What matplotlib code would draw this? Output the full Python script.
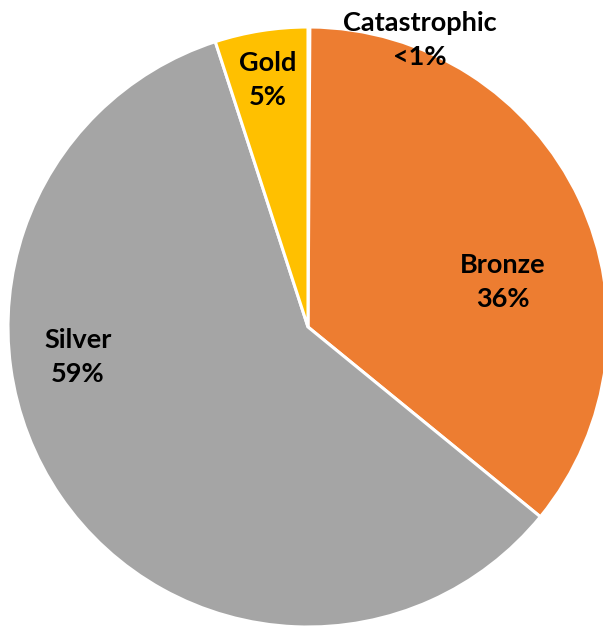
import matplotlib
matplotlib.use("Agg")
import matplotlib.pyplot as plt

categories = ["Catastrophic", "Bronze", "Silver", "Gold"]
shares = [0.1, 35.8, 59.1, 5.0]
pct_labels = ["<1%", "36%", "59%", "5%"]
colors = ["#4472C4", "#ED7D31", "#A5A5A5", "#FFC000"]

# label anchor positions (in pie radius units)
label_pos = [(0.373, 0.957), (0.65, 0.15), (-0.767, -0.10), (-0.133, 0.823)]

fig = plt.figure(figsize=(6.03, 6.27), dpi=100)
ax = fig.add_axes([8 / 603, 0, 600 / 603, 600 / 627])

ax.pie(
    shares,
    colors=colors,
    startangle=90,
    counterclock=False,
    radius=1,
    wedgeprops=dict(edgecolor="white", linewidth=2.2),
)

for name, pct, (x, y) in zip(categories, pct_labels, label_pos):
    ax.text(x, y, f"{name}\n{pct}", ha="center", va="center",
            fontsize=19.5, fontweight="bold", family="Lato",
            linespacing=1.5, color="black")

ax.set_xlim(-1, 1)
ax.set_ylim(-1, 1)
ax.set_aspect("equal")
ax.axis("off")

fig.savefig("out.png", dpi=100)
